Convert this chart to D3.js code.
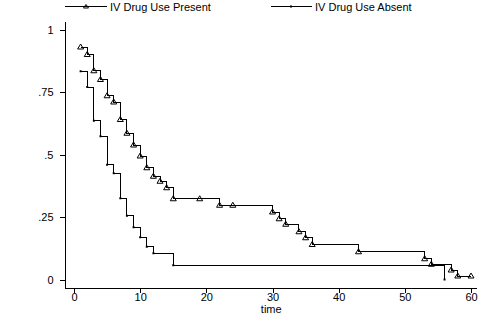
<!DOCTYPE html>
<html>
<head>
<meta charset="utf-8">
<script src="https://cdn.jsdelivr.net/npm/d3@7"></script>
<style>
  body { margin: 0; background: #fff; }
  svg { display: block; }
  text { font-family: "Liberation Sans", Arial, sans-serif; font-size: 11px; fill: #000; }
</style>
</head>
<body>
<svg id="chart" width="488" height="325"></svg>
<script>
// Kaplan-Meier survival estimates by IV drug use (time in months)
const presentTime = [1, 2, 3, 4, 5, 6, 7, 8, 9, 10, 11, 12, 13, 14, 15, 19, 22, 24, 30, 31, 32, 34, 35, 36, 43, 53, 54, 57, 58, 60];
const presentSurv = [0.93, 0.90, 0.835, 0.80, 0.735, 0.71, 0.64, 0.585, 0.538, 0.494, 0.447, 0.413, 0.393, 0.367, 0.323, 0.323, 0.297, 0.297, 0.27, 0.243, 0.221, 0.191, 0.167, 0.14, 0.111, 0.083, 0.061, 0.038, 0.014, 0.014];
const absentTime = [1, 2, 3, 4, 5, 6, 7, 8, 9, 10, 11, 12, 15, 56];
const absentSurv = [0.833, 0.77, 0.635, 0.573, 0.459, 0.425, 0.325, 0.255, 0.209, 0.169, 0.131, 0.105, 0.057, 0];

const seriesNames = ["IV Drug Use Present", "IV Drug Use Absent"];
const xTicks = [0, 10, 20, 30, 40, 50, 60];
const yTicks = [0, 0.25, 0.5, 0.75, 1];
const yTickLabels = ["0", ".25", ".5", ".75", "1"];
const xTitle = "time";

const svg = d3.select("#chart");
svg.append("rect").attr("width", 488).attr("height", 325).attr("fill", "#fff");

const x = d3.scaleLinear().domain([0, 60]).range([74, 471]);
const y = d3.scaleLinear().domain([0, 1]).range([279.5, 29.5]);

const axisLeftX = 65.5, axisBottomY = 288.5;

// axes
const yAxis = d3.axisLeft(y).tickValues(yTicks)
  .tickFormat((d, i) => yTickLabels[i]).tickSize(6).tickPadding(6);
const gy = svg.append("g").attr("transform", `translate(${axisLeftX},0)`).call(yAxis);
gy.select(".domain").remove();

const xAxis = d3.axisBottom(x).tickValues(xTicks).tickSize(4).tickPadding(1);
const gx = svg.append("g").attr("transform", `translate(0,${axisBottomY})`).call(xAxis);
gx.select(".domain").remove();

[gx, gy].forEach(g => {
  g.selectAll("line").attr("stroke", "#000").attr("shape-rendering", "crispEdges");
  g.selectAll("text").attr("font-size", 11).attr("font-family", null).attr("fill", "#000");
});

svg.append("line").attr("x1", axisLeftX).attr("x2", axisLeftX).attr("y1", 22).attr("y2", axisBottomY)
  .attr("stroke", "#000").attr("shape-rendering", "crispEdges");
svg.append("line").attr("x1", axisLeftX).attr("x2", 477).attr("y1", axisBottomY).attr("y2", axisBottomY)
  .attr("stroke", "#000").attr("shape-rendering", "crispEdges");

svg.append("text").attr("x", (axisLeftX + 477) / 2).attr("y", 313.3)
  .attr("text-anchor", "middle").attr("font-size", 10.5).text(xTitle);

// survival step curves
const step = d3.line().x(d => x(d[0])).y(d => y(d[1])).curve(d3.curveStepAfter);
const present = presentTime.map((t, i) => [t, presentSurv[i]]);
const absent = absentTime.map((t, i) => [t, absentSurv[i]]);

[present, absent].forEach(data => {
  svg.append("path").datum(data).attr("d", step)
    .attr("fill", "none").attr("stroke", "#000").attr("stroke-width", 1)
    .attr("shape-rendering", "crispEdges");
});

const triangle = "M-3,2L0,-3L3,2Z";
svg.append("g").selectAll("path").data(present).join("path")
  .attr("transform", d => `translate(${x(d[0])},${y(d[1])})`)
  .attr("d", triangle).attr("fill", "none").attr("stroke", "#000").attr("stroke-width", 1);

svg.append("g").selectAll("rect").data(absent).join("rect")
  .attr("x", d => x(d[0]) - 1).attr("y", d => y(d[1]) - 1)
  .attr("width", 2).attr("height", 2).attr("fill", "#000");

// legend
const legendY = 6.5;
const legend = [
  { x0: 65, x1: 107, mark: 86, tx: 110, name: seriesNames[0], kind: "tri" },
  { x0: 271, x1: 312, mark: 291, tx: 315, name: seriesNames[1], kind: "dot" }
];
legend.forEach(l => {
  svg.append("line").attr("x1", l.x0).attr("x2", l.x1).attr("y1", legendY).attr("y2", legendY)
    .attr("stroke", "#000").attr("shape-rendering", "crispEdges");
  if (l.kind === "tri") {
    svg.append("path").attr("transform", `translate(${l.mark},${legendY})`)
      .attr("d", "M-2.5,1.5L0,-2L2.5,1.5Z").attr("fill", "none").attr("stroke", "#000");
  } else {
    svg.append("rect").attr("x", l.mark - 1).attr("y", legendY - 1).attr("width", 2).attr("height", 2).attr("fill", "#000");
  }
  svg.append("text").attr("x", l.tx).attr("y", 10.5).text(l.name);
});
</script>
</body>
</html>
